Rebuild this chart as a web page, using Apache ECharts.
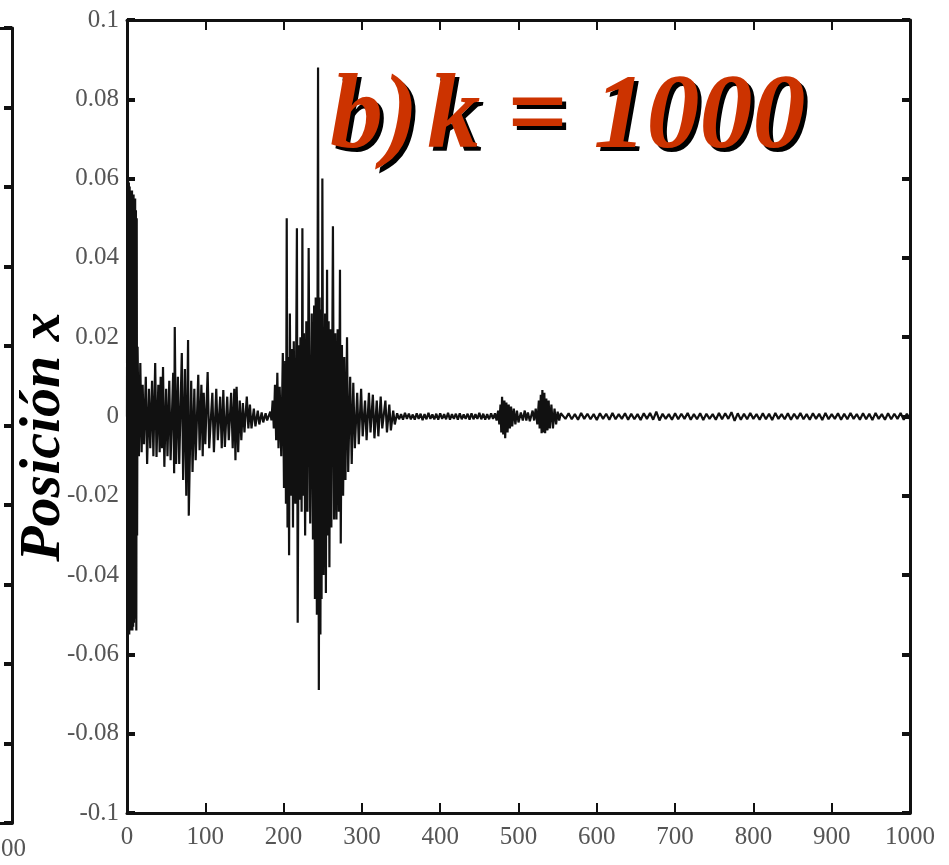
<!DOCTYPE html>
<html>
<head>
<meta charset="utf-8">
<script src="https://cdn.jsdelivr.net/npm/echarts@6/dist/echarts.min.js"></script>
<style>
  html, body { margin: 0; padding: 0; background: #fff; }
  #chart { width: 949px; height: 865px; }
</style>
</head>
<body>
<div id="chart"></div>
<script>
// picos: [tiempo, posicion], alternando maximo / minimo
var arranque = [[0,0],[0.4,0.058],[0.9,-0.05],[1.4,0.06],[1.9,-0.054],[2.4,0.059],[2.9,-0.055],[3.4,0.058],[3.9,-0.053],
  [4.4,0.057],[4.9,-0.054],[5.4,0.056],[5.9,-0.052],[6.4,0.057],[6.9,-0.054],[7.4,0.055],[7.9,-0.053],[8.4,0.056],
  [8.9,-0.052],[9.4,0.054],[9.9,-0.051],[10.4,0.055],[10.9,-0.05],[11.4,0.052],[11.9,-0.054],[12.4,0.05],[12.9,-0.03]];

var ondaInicial = [[13.5,0.0176],[15.2,-0.010],[17,0.0135],[18.7,-0.009],[20,0.008],[21.7,-0.007],[24,0.010],[25.7,-0.012],
  [28,0.007],[29.7,-0.008],[32,0.009],[33.7,-0.010],[36,0.0135],[37.7,-0.0102],[40,0.008],[41.7,-0.009],[43,0.010],
  [44.7,-0.008],[46,0.0125],[47.7,-0.0127],[50,0.007],[51.7,-0.010],[54,0.009],[55.7,-0.011],[59,0.011],[60.2,-0.0143],
  [61,0.0226],[62.7,-0.012],[65,0.010],[66.7,-0.012],[70,0.016],[71.7,-0.016],[74,0.012],[75.7,-0.020],[78,0.0193],
  [78.9,-0.025],[82,0.009],[83.7,-0.014],[86,0.007],[87.7,-0.011],[91,0.0105],[92.7,-0.0085],[95,0.008],[96.7,-0.010],
  [98,0.006],[100,-0.007],[103,0.0112],[105,-0.008],[109,0.006],[111,-0.009],[114,0.007],[116,-0.006],[119,0.005],
  [121,-0.008],[123,0.0067],[125,-0.0077],[128,0.005],[130,-0.006],[133,0.006],[135,-0.008],[137,0.007],[138.5,-0.011],
  [140,0.0075],[142,-0.009],[144,0.004],[146,-0.006],[148,0.0034],[150,-0.004],[153,0.005],[155,-0.003],[157,0.003],
  [159,-0.003],[162,0.002],[164,-0.0025],[167,0.0015],[169,-0.002],[172,0.001],[174,-0.0015],[177,0.0008],[179,-0.001],
  [183,0.0012],[184.5,-0.001]];

var ondaPrincipal = [[186,0.004],[187.5,-0.003],[189,0.008],[190.5,-0.006],[192,0.011],[193.5,-0.008],[195,0.0075],
  [197,-0.010],[199,0.016],[200.5,-0.018],[202,0.014],[203,-0.022],[204,0.050],[205,-0.028],[206,0.015],[207,-0.035],
  [208,0.026],[209.5,-0.020],[211,0.017],[212,-0.028],[213,0.019],[215,-0.022],[217,0.0475],[218,-0.052],[219.5,0.018],
  [220.5,-0.021],[221.5,0.020],[223,-0.024],[224,0.0475],[225,-0.020],[226,0.021],[227.5,-0.030],[229,0.024],
  [230.5,-0.024],[232,0.0425],[234,-0.027],[236,0.026],[237.5,-0.031],[239,0.028],[240,-0.046],[241,0.030],
  [242.5,-0.050],[244,0.088],[245,-0.069],[246,0.030],[247,-0.055],[248,0.027],[248.5,-0.046],[249.5,0.060],
  [251,-0.040],[253,0.026],[254,-0.0445],[255.5,0.037],[256.5,-0.030],[257.5,0.024],[258.5,-0.038],[259.5,0.022],
  [261,-0.028],[263,0.048],[264.5,-0.026],[266,0.021],[267.5,-0.026],[269,0.022],[270.5,-0.024],[272,0.037],
  [273,-0.032],[274.5,0.018],[276,-0.020],[277.5,0.015],[279,-0.016],[281,0.020],[282.5,-0.014],[285,0.010],
  [287,-0.012],[289,0.0085],[291,-0.008],[294,0.006],[296,-0.007],[299,0.007],[301,-0.005],[304,0.004],[306,-0.006],
  [309,0.006],[311,-0.004],[314,0.0055],[316,-0.0055],[319,0.004],[321,-0.005],[324,0.005],[326,-0.003],[330,0.004],
  [332,-0.004],[335,0.003],[337,-0.0035],[340,0.0015],[342,-0.002]];

var calma1 = [[345,0.0008],[347.5,-0.0007],[350,0.0006],[352.5,-0.0008],[355,0.0009],[357.5,-0.0006],[360,0.0007],
  [362.5,-0.0007],[365,0.0005],[367.5,-0.0008],[370,0.0008],[372.5,-0.0006],[375,0.0007],[377.5,-0.0009],[380,0.0006],
  [382.5,-0.0007],[385,0.0009],[387.5,-0.0006],[390,0.0005],[392.5,-0.0007],[395,0.0007],[397.5,-0.0008],[400,0.0008],
  [402.5,-0.0006],[405,0.0006],[407.5,-0.0007],[410,0.0009],[412.5,-0.0008],[415,0.0006],[417.5,-0.0006],[420,0.0007],
  [422.5,-0.0008],[425,0.0008],[427.5,-0.0007],[430,0.0005],[432.5,-0.0006],[435,0.0007],[437.5,-0.0008],[440,0.0008],
  [442.5,-0.0007],[445,0.0006],[447.5,-0.0006],[450,0.0009],[452.5,-0.0007],[455,0.0007],[457.5,-0.0008],[460,0.0006],
  [462.5,-0.0007],[465,0.0008],[467.5,-0.0006]];

var pulsos = [[470,0.0008],[472,-0.001],[474,0.0015],[475.5,-0.002],[477,0.003],[478,-0.004],[479,0.005],[480.5,-0.0045],
  [482,0.004],[483,-0.0055],[484.5,0.0035],[486,-0.004],[487.5,0.003],[489,-0.003],[490.5,0.0025],[492,-0.0025],
  [494,0.002],[496,-0.002],[498,0.0015],[500,-0.0015],[503,0.001],[505.5,-0.001],[508,0.0015],[510,-0.001],[512,0.001],
  [514.5,-0.0012],[518,0.0015],[520,-0.001],[522,0.002],[524,-0.002],[526,0.004],[527,-0.003],[528.5,0.0055],
  [529.5,-0.0042],[530.5,0.0067],[531.5,-0.004],[533,0.006],[534,-0.0042],[535.5,0.0045],[537,-0.0035],[538.5,0.004],
  [540,-0.003],[542,0.003],[544,-0.003],[546,0.002],[548,-0.002],[550,0.0012],[552,-0.001],[554,0.0008]];

var calma2 = [[556,0.0007],[560,-0.0006],[564,0.0008],[568,-0.0007],[572,0.0006],[576,-0.0008],[580,0.0009],[584,-0.0006],
  [588,0.0007],[592,-0.0007],[596,0.0006],[600,-0.0009],[604,0.0008],[608,-0.0006],[612,0.0007],[616,-0.0008],
  [620,0.0009],[624,-0.0007],[628,0.0006],[632,-0.0006],[636,0.0008],[640,-0.0008],[644,0.0007],[648,-0.0007],
  [652,0.0006],[656,-0.0009],[660,0.0008],[664,-0.0006],[668,0.0009],[672,-0.0008],[676,0.0012],[680,-0.0010],
  [684,0.0007],[688,-0.0006],[692,0.0006],[696,-0.0008],[700,0.0008],[704,-0.0007],[708,0.0007],[712,-0.0006],
  [716,0.0009],[720,-0.0008],[724,0.0006],[728,-0.0007],[732,0.0008],[736,-0.0009],[740,0.0007],[744,-0.0006],
  [748,0.0006],[752,-0.0008],[756,0.0009],[760,-0.0007],[764,0.0008],[768,-0.0006],[772,0.0011],[776,-0.0011],
  [780,0.0008],[784,-0.0008],[788,0.0007],[792,-0.0007],[796,0.0009],[800,-0.0006],[804,0.0006],[808,-0.0008],
  [812,0.0008],[816,-0.0007],[820,0.0007],[824,-0.0009],[828,0.0009],[832,-0.0006],[836,0.0006],[840,-0.0007],
  [844,0.0008],[848,-0.0008],[852,0.0007],[856,-0.0006],[860,0.0009],[864,-0.0007],[868,0.0006],[872,-0.0008],
  [876,0.0008],[880,-0.0006],[884,0.0007],[888,-0.0009],[892,0.0009],[896,-0.0007],[900,0.0006],[904,-0.0006],
  [908,0.0008],[912,-0.0008],[916,0.0007],[920,-0.0007],[924,0.0009],[928,-0.0006],[932,0.0006],[936,-0.0008],
  [940,0.0008],[944,-0.0007],[948,0.0007],[952,-0.0009],[956,0.0009],[960,-0.0006],[964,0.0006],[968,-0.0008],
  [972,0.0008],[976,-0.0007],[980,0.0007],[984,-0.0006],[988,0.0009],[992,-0.0008],[996,0.0007],[1000,-0.0007]];

var rangoX = [0, 1000, 100];
var rangoY = [-0.1, 0.1, 0.02];
var titulo = 'b)\u200Ak = 1000';
var nombreY = 'Posición x';

var serie = [].concat(arranque, ondaInicial, ondaPrincipal, calma1, pulsos, calma2);

var negro = '#111';
var fuenteEje = { fontFamily: 'Liberation Serif', fontSize: 25, color: '#555' };

function etiquetaY(v) {
    var s = v.toFixed(2).replace(/0+$/, '').replace(/\.$/, '');
    if (s === '-0') s = '0';
    return s;
}

function ejeX(grid, pos, etiquetas, fmt) {
    return {
        type: 'value', gridIndex: grid, position: pos,
        min: rangoX[0], max: rangoX[1], interval: rangoX[2],
        axisLine: { onZero: false, lineStyle: { color: negro, width: 3 } },
        axisTick: { inside: true, length: 10, lineStyle: { color: negro, width: 2 } },
        splitLine: { show: false },
        axisLabel: Object.assign({ show: etiquetas, margin: 12,
            formatter: fmt || function (v) { return String(v); } }, fuenteEje)
    };
}

function ejeY(grid, pos, etiquetas) {
    return {
        type: 'value', gridIndex: grid, position: pos,
        min: rangoY[0], max: rangoY[1], interval: rangoY[2],
        axisLine: { onZero: false, lineStyle: { color: negro, width: 3 } },
        axisTick: { inside: true, length: 8, lineStyle: { color: negro, width: 4 } },
        splitLine: { show: false },
        axisLabel: Object.assign({ show: etiquetas, margin: 8, formatter: etiquetaY }, fuenteEje)
    };
}

var ejeIzq = ejeX(1, 'bottom', true, function (v) { return v === rangoX[1] ? String(v) : ''; });
ejeIzq.axisLabel.padding = [0, 22, 0, 0];
ejeIzq.axisLabel.margin = 14;

var myChart = echarts.init(document.getElementById('chart'));
var option = {
    animation: false,
    backgroundColor: '#fff',
    grid: [
        { left: 127, top: 20, width: 783, height: 793, outerBoundsMode: 'none', containLabel: false },
        // grafico a) cortado a la izquierda
        { left: -900, top: 28, width: 912, height: 795, outerBoundsMode: 'none', containLabel: false }
    ],
    xAxis: [
        ejeX(0, 'bottom', true),
        ejeX(0, 'top', false),
        ejeIzq,
        ejeX(1, 'top', false)
    ],
    yAxis: [
        ejeY(0, 'left', true),
        ejeY(0, 'right', false),
        ejeY(1, 'left', false),
        ejeY(1, 'right', false)
    ],
    series: [{
        type: 'line',
        xAxisIndex: 0, yAxisIndex: 0,
        data: serie,
        showSymbol: false,
        clip: true,
        lineStyle: { color: negro, width: 2.2 }
    }],
    graphic: [
        {
            type: 'text', x: 44, y: 437, rotation: Math.PI / 2, z: 10,
            style: { text: nombreY, font: 'italic bold 58px "Liberation Serif"', fill: '#000',
                     textAlign: 'center', textVerticalAlign: 'middle' }
        },
        {
            type: 'text', x: 334, y: 124, z: 10,
            style: { text: titulo, font: 'italic bold 106px "Liberation Serif"', fill: '#000',
                     textAlign: 'left', textVerticalAlign: 'middle' }
        },
        {
            type: 'text', x: 330, y: 120, z: 11,
            style: { text: titulo, font: 'italic bold 106px "Liberation Serif"', fill: '#cc3300',
                     textAlign: 'left', textVerticalAlign: 'middle' }
        }
    ]
};
myChart.setOption(option);
</script>
</body>
</html>
